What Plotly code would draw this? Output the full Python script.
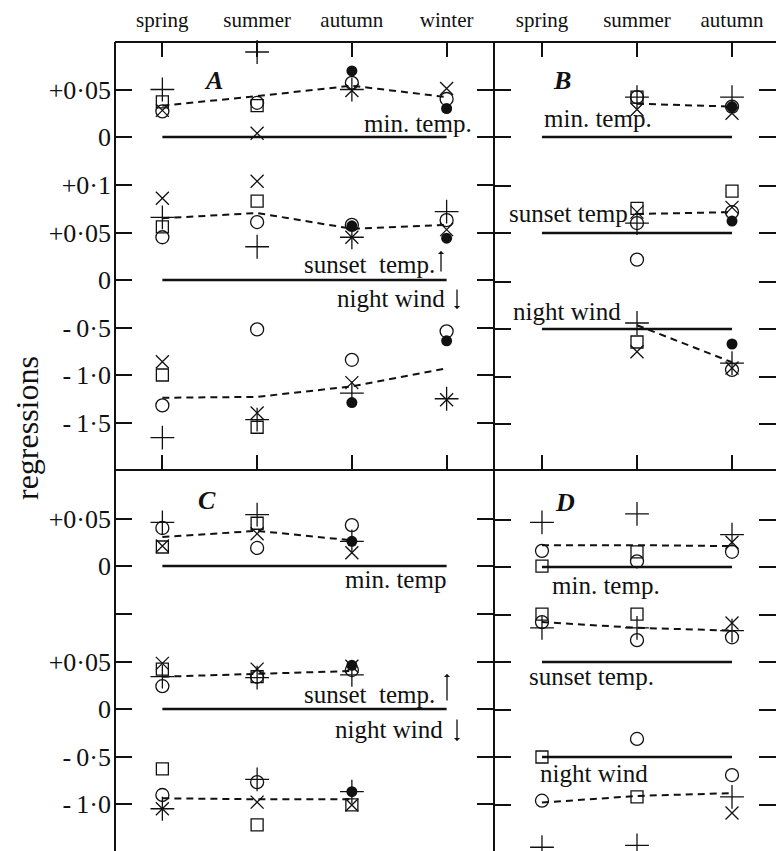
import plotly.graph_objects as go

W, H = 776, 851

SEASONS_AC = ["spring", "summer", "autumn", "winter"]
SEASONS_BD = ["spring", "summer", "autumn"]

# ---- panel A: regressions per season (one list per station symbol) ----
A_MIN = {
    "plus":   [0.050, 0.0895, 0.050, None],
    "cross":  [0.028, 0.004, 0.049, 0.051],
    "circle": [0.027, 0.036, 0.057, 0.040],
    "square": [0.037, 0.033, None, None],
    "dot":    [None, None, 0.0695, 0.030],
}
A_MIN_MEAN = [0.033, 0.043, 0.054, 0.042]

A_SUN = {
    "plus":   [0.066, 0.035, 0.045, 0.072],
    "cross":  [0.086, 0.104, 0.045, 0.053],
    "circle": [0.045, 0.061, 0.058, 0.063],
    "square": [0.056, 0.083, None, None],
    "dot":    [None, None, 0.057, 0.044],
}
A_SUN_MEAN = [0.065, 0.0705, 0.054, 0.058]

A_WIND = {
    "plus":   [-1.66, -1.47, -1.19, -1.25],
    "cross":  [-0.86, -1.40, -1.08, -1.26],
    "circle": [-1.32, -0.52, -0.84, -0.54],
    "square": [-1.00, -1.55, None, None],
    "dot":    [None, None, -1.29, -0.64],
}
A_WIND_MEAN = [-1.24, -1.23, -1.12, -0.93]

# ---- panel B ----
B_MIN = {
    "plus":   [None, 0.042, 0.042],
    "cross":  [None, 0.029, 0.025],
    "circle": [None, 0.042, 0.032],
    "square": [None, 0.042, None],
    "dot":    [None, None, 0.032],
}
B_MIN_MEAN = [None, 0.035, 0.032]

B_SUN = {
    "plus":   [None, 0.0105, None],
    "cross":  [None, 0.022, 0.027],
    "circle": [None, 0.0105, 0.022],
    "square": [None, 0.026, 0.044],
    "dot":    [None, None, 0.0126],
}
B_SUN_MEAN = [None, 0.020, 0.022]

B_WIND = {
    "plus":   [None, 0.063, -0.36],
    "cross":  [None, -0.24, -0.41],
    "circle": [None, 0.73, -0.43],
    "square": [None, -0.137, None],
    "dot":    [None, None, -0.158],
}
B_WIND_MEAN = [None, 0.04, -0.35]

# ---- panel C ----
C_MIN = {
    "plus":   [0.046, 0.054, 0.026],
    "cross":  [0.021, 0.034, 0.014],
    "circle": [0.040, 0.019, 0.043],
    "square": [0.020, 0.045, None],
    "dot":    [None, None, 0.026],
}
C_MIN_MEAN = [0.0305, 0.037, 0.027]

C_SUN = {
    "plus":   [0.034, 0.033, 0.036],
    "cross":  [0.048, 0.042, 0.045],
    "circle": [0.024, 0.034, 0.041],
    "square": [0.042, 0.034, None],
    "dot":    [None, None, 0.046],
}
C_SUN_MEAN = [0.034, 0.037, 0.040]

C_WIND = {
    "plus":   [-1.05, -0.74, -0.87],
    "cross":  [-1.05, -0.98, -1.01],
    "circle": [-0.905, -0.77, None],
    "square": [-0.63, -1.22, -1.01],
    "dot":    [None, None, -0.87],
}
C_WIND_MEAN = [-0.94, -0.95, -0.95]

# ---- panel D ----
D_MIN = {
    "plus":   [0.047, 0.056, 0.034],
    "cross":  [None, None, 0.026],
    "circle": [0.017, 0.006, 0.016],
    "square": [0.001, 0.016, None],
}
D_MIN_MEAN = [0.023, 0.023, 0.022]

D_SUN = {
    "plus":   [0.036, 0.036, 0.033],
    "cross":  [None, None, 0.041],
    "circle": [0.042, 0.023, 0.026],
    "square": [0.0505, 0.0505, None],
}
D_SUN_MEAN = [0.042, 0.036, 0.033]

D_WIND = {
    "plus":   [-0.95, -0.93, -0.42],
    "cross":  [None, None, -0.59],
    "circle": [-0.46, 0.19, -0.19],
    "square": [0.0, -0.42, None],
}
D_WIND_MEAN = [-0.48, -0.41, -0.38]

# ---- styling ----
FONT = "Liberation Serif"
INK = "#111111"
MARKERS = {
    "plus":   dict(symbol="cross-thin-open", size=17, color=INK, line=dict(width=1.3, color=INK)),
    "cross":  dict(symbol="x-thin-open", size=13, color=INK, line=dict(width=1.3, color=INK)),
    "circle": dict(symbol="circle-open", size=13, color=INK, line=dict(width=1.3, color=INK)),
    "square": dict(symbol="square-open", size=12, color=INK, line=dict(width=1.3, color=INK)),
    "dot":    dict(symbol="circle", size=11, color=INK, line=dict(width=0)),
}

STEP_PX = 47.5  # vertical spacing of tick marks, in pixels


def px_x(px):
    return px / W


def px_y(py):
    return 1 - py / H


def y_range(base_px, top_px, bottom_px, unit):
    return [(base_px - bottom_px) / STEP_PX * unit, (base_px - top_px) / STEP_PX * unit]


fig = go.Figure()


def add_block(xa, ya, seasons, series, mean, baseline=True):
    if baseline:
        fig.add_trace(go.Scatter(
            x=[seasons[0], seasons[-1]], y=[0, 0], xaxis=xa, yaxis=ya,
            mode="lines", line=dict(color=INK, width=2.6), hoverinfo="skip"))
    mx = [s for s, v in zip(seasons, mean) if v is not None]
    my = [v for v in mean if v is not None]
    fig.add_trace(go.Scatter(
        x=mx, y=my, xaxis=xa, yaxis=ya, mode="lines",
        line=dict(color=INK, width=2, dash="7px,5px")))
    for key, vals in series.items():
        xs = [s for s, v in zip(seasons, vals) if v is not None]
        ys = [v for v in vals if v is not None]
        fig.add_trace(go.Scatter(
            x=xs, y=ys, xaxis=xa, yaxis=ya, mode="markers",
            marker=MARKERS[key], cliponaxis=False))


# column A/C uses four seasons, B/D three
add_block("x", "y", SEASONS_AC, A_MIN, A_MIN_MEAN)
add_block("x", "y2", SEASONS_AC, A_SUN, A_SUN_MEAN)
add_block("x", "y3", SEASONS_AC, A_WIND, A_WIND_MEAN, baseline=False)
add_block("x2", "y4", SEASONS_BD, B_MIN, B_MIN_MEAN)
add_block("x2", "y5", SEASONS_BD, B_SUN, B_SUN_MEAN)
add_block("x2", "y6", SEASONS_BD, B_WIND, B_WIND_MEAN)
add_block("x3", "y7", SEASONS_AC, C_MIN, C_MIN_MEAN)
add_block("x3", "y8", SEASONS_AC, C_SUN, C_SUN_MEAN)
add_block("x3", "y9", SEASONS_AC, C_WIND, C_WIND_MEAN, baseline=False)
add_block("x4", "y10", SEASONS_BD, D_MIN, D_MIN_MEAN)
add_block("x4", "y11", SEASONS_BD, D_SUN, D_SUN_MEAN)
add_block("x4", "y12", SEASONS_BD, D_WIND, D_WIND_MEAN)

LEFT, MID, RIGHT = 115, 494, 776
TOP, SPLIT, BOTTOM = 42, 470, 851
dom_left = [px_x(LEFT), px_x(MID)]
dom_right = [px_x(MID), 1.0]
dom_top = [px_y(SPLIT), px_y(TOP)]
dom_bottom = [0.0, px_y(SPLIT)]
rng_left = [-0.5, 3.5]
rng_right = [-0.505, 2.463]

tick_font = dict(family=FONT, size=26, color=INK)
xcommon = dict(type="category", showgrid=False, zeroline=False, showline=False,
               tickcolor=INK, tickwidth=1.5)
ycommon = dict(showgrid=False, zeroline=False, showline=False, ticks="inside",
               ticklen=17, tickwidth=1.5, tickcolor=INK, mirror="ticks",
               tickfont=tick_font, ticklabelstandoff=3)


def yax(base_px, top_px, bottom_px, unit, vals, texts=None, **kw):
    d = dict(ycommon)
    d.update(range=y_range(base_px, top_px, bottom_px, unit), tickvals=vals, **kw)
    if texts is None:
        d["showticklabels"] = False
    else:
        d["ticktext"] = texts
    return d


MINUS = "-\u2009"
season_font = dict(family=FONT, size=21, color=INK)
layout_axes = dict(
    xaxis=dict(xcommon, domain=dom_left, anchor="y", side="top", range=rng_left,
               categoryarray=SEASONS_AC, categoryorder="array", ticks="inside",
               ticklen=15, mirror="ticks", ticklabelstandoff=10, tickfont=season_font),
    xaxis2=dict(xcommon, domain=dom_right, anchor="y4", side="top", range=rng_right,
                categoryarray=SEASONS_BD, categoryorder="array", ticks="inside",
                ticklen=15, mirror="ticks", ticklabelstandoff=10, tickfont=season_font),
    xaxis3=dict(xcommon, domain=dom_left, anchor="y7", range=rng_left,
                categoryarray=SEASONS_AC, categoryorder="array", ticks="",
                showticklabels=False),
    xaxis4=dict(xcommon, domain=dom_right, anchor="y10", range=rng_right,
                categoryarray=SEASONS_BD, categoryorder="array", ticks="",
                showticklabels=False),
    yaxis=yax(137, TOP, SPLIT, 0.05, [0, 0.05], ["0", "+0·05"],
              domain=dom_top, anchor="x"),
    yaxis2=yax(280, TOP, SPLIT, 0.05, [0, 0.05, 0.1], ["0", "+0·05", "+0·1"],
               overlaying="y", anchor="x"),
    yaxis3=yax(280, TOP, SPLIT, 0.5, [-0.5, -1.0, -1.5],
               [MINUS + "0·5", MINUS + "1·0", MINUS + "1·5"],
               overlaying="y", anchor="x"),
    yaxis4=yax(137, TOP, SPLIT, 0.05, [0, 0.05], domain=dom_top, anchor="x2"),
    yaxis5=yax(233, TOP, SPLIT, 0.05, [0, 0.05], overlaying="y4", anchor="x2"),
    yaxis6=yax(329, TOP, SPLIT, 0.5, [0.5, 0, -0.5, -1.0], overlaying="y4", anchor="x2"),
    yaxis7=yax(566, SPLIT, BOTTOM, 0.05, [0, 0.05], ["0", "+0·05"],
               domain=dom_bottom, anchor="x3"),
    yaxis8=yax(709, SPLIT, BOTTOM, 0.05, [0, 0.05, 0.1], ["0", "+0·05", ""],
               overlaying="y7", anchor="x3"),
    yaxis9=yax(709, SPLIT, BOTTOM, 0.5, [-0.5, -1.0],
               [MINUS + "0·5", MINUS + "1·0"], overlaying="y7", anchor="x3"),
    yaxis10=yax(567, SPLIT, BOTTOM, 0.05, [0.05, 0, -0.05], domain=dom_bottom, anchor="x4"),
    yaxis11=yax(662, SPLIT, BOTTOM, 0.05, [0, -0.05], overlaying="y10", anchor="x4"),
    yaxis12=yax(757, SPLIT, BOTTOM, 0.5, [0, -0.5], overlaying="y10", anchor="x4"),
)

# frame lines
shapes = []
for (x0, y0, x1, y1) in [(LEFT, TOP, LEFT, BOTTOM), (MID, TOP, MID, BOTTOM),
                         (LEFT, TOP, RIGHT, TOP), (LEFT, SPLIT, RIGHT, SPLIT)]:
    shapes.append(dict(type="line", xref="paper", yref="paper",
                       x0=px_x(x0), y0=px_y(y0), x1=px_x(x1), y1=px_y(y1),
                       line=dict(color=INK, width=2)))

annotations = []


def label(text, px, py, size=25, xanchor="center", **kw):
    annotations.append(dict(text=text, x=px_x(px), y=px_y(py), xref="paper", yref="paper",
                            xanchor=xanchor, yanchor="middle", showarrow=False,
                            font=dict(family=FONT, size=size, color=INK), **kw))


def arrow(px, head_py, tail_py):
    annotations.append(dict(text="", x=px_x(px), y=px_y(head_py), xref="paper", yref="paper",
                            ax=0, ay=tail_py - head_py, axref="pixel", ayref="pixel",
                            showarrow=True, arrowhead=1, arrowsize=0.8, arrowwidth=1.3,
                            arrowcolor=INK))


label("<b><i>A</i></b>", 213, 80, size=26)
label("<b><i>B</i></b>", 562, 80, size=26)
label("<b><i>C</i></b>", 207, 500, size=26)
label("<b><i>D</i></b>", 565, 502, size=26)

label("min. temp.", 474, 123, xanchor="right")
label("sunset  temp.", 437, 264, xanchor="right")
arrow(441, 251, 273)
label("night wind", 447, 298, xanchor="right")
arrow(457, 309, 288)

label("min. temp.", 542, 118, xanchor="left")
label("sunset temp", 507, 213, xanchor="left")
label("night wind", 511, 311, xanchor="left")

label("min. temp", 448, 579, xanchor="right")
label("sunset  temp.", 437, 694, xanchor="right")
arrow(447, 674, 702)
label("night wind", 445, 729, xanchor="right")
arrow(457, 741, 718)

label("min. temp.", 550, 585, xanchor="left")
label("sunset temp.", 527, 676, xanchor="left")
label("night wind", 538, 773, xanchor="left")

label("regressions", 27, 428, size=32, textangle=-90)

fig.update_layout(
    width=W, height=H, margin=dict(l=0, r=0, t=0, b=0),
    paper_bgcolor="white", plot_bgcolor="rgba(0,0,0,0)",
    showlegend=False, shapes=shapes, annotations=annotations,
    font=dict(family=FONT, color=INK),
    **layout_axes,
)

fig.write_html("out.html")
